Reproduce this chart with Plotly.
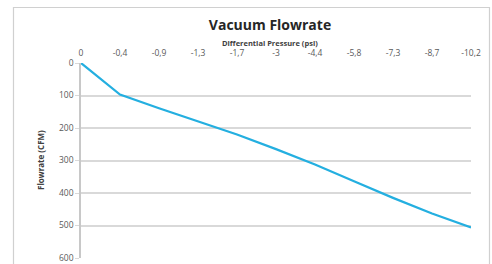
import plotly.graph_objects as go

categories = ["0", "-0,4", "-0,9", "-1,3", "-1,7", "-3", "-4,4", "-5,8", "-7,3", "-8,7", "-10,2"]
flowrate = [0, 97, 139, 179, 220, 265, 312, 364, 415, 463, 506]
y_ticks = [0, 100, 200, 300, 400, 500, 600]

FONT = "Open Sans"
fig = go.Figure()
fig.add_trace(go.Scatter(
    x=categories, y=flowrate, mode="lines",
    line=dict(color="#24afe0", width=2.2),
    hoverinfo="x+y", showlegend=False,
))

fig.update_layout(
    width=492, height=264,
    margin=dict(l=81, r=21, t=63, b=6, autoexpand=False),
    paper_bgcolor="white", plot_bgcolor="white",
    font=dict(family=FONT, color="#595959", size=9),
    title=dict(text="<b>Vacuum Flowrate</b>", x=270/492, xanchor="center",
               y=1-25/264, yanchor="middle", yref="container",
               font=dict(family=FONT, size=14, color="#262626")),
    xaxis=dict(type="category", side="top", range=[0, 10], automargin=False,
               showgrid=False, showline=False, ticks="", ticklabelstandoff=4,
               tickfont=dict(size=8.5, color="#595959"), zeroline=False),
    yaxis=dict(range=[600, 0], tickvals=y_ticks, showgrid=True, automargin=False,
               gridcolor="#d9d9d9", gridwidth=1.5, showline=True,
               linecolor="#c8c8c8", linewidth=1.5, ticks="outside",
               ticklen=4, tickcolor="#d9d9d9", zeroline=False,
               tickfont=dict(size=8.5, color="#595959")),
    annotations=[
        dict(text="<b>Differential Pressure (psi)</b>", xref="paper", yref="paper",
             x=(270-81)/390, y=1+(63-43)/195, xanchor="center", yanchor="middle",
             showarrow=False, font=dict(family=FONT, size=7.5, color="#404040")),
        dict(text="<b>Flowrate (CFM)</b>", xref="paper", yref="paper",
             x=(40-81)/390, y=(258-160)/195, xanchor="center", yanchor="middle",
             textangle=-90, showarrow=False,
             font=dict(family=FONT, size=8, color="#404040")),
    ],
    shapes=[dict(type="rect", xref="paper", yref="paper",
                 x0=(13.5-81)/390, x1=(489.5-81)/390, y0=-0.2, y1=1+(63-7.5)/195,
                 line=dict(color="#d0d0d0", width=1.2), layer="above")],
)
fig.write_html("out.html", config={"displayModeBar": False},
               post_script="document.body.style.margin='0';document.body.style.overflow='hidden';")
